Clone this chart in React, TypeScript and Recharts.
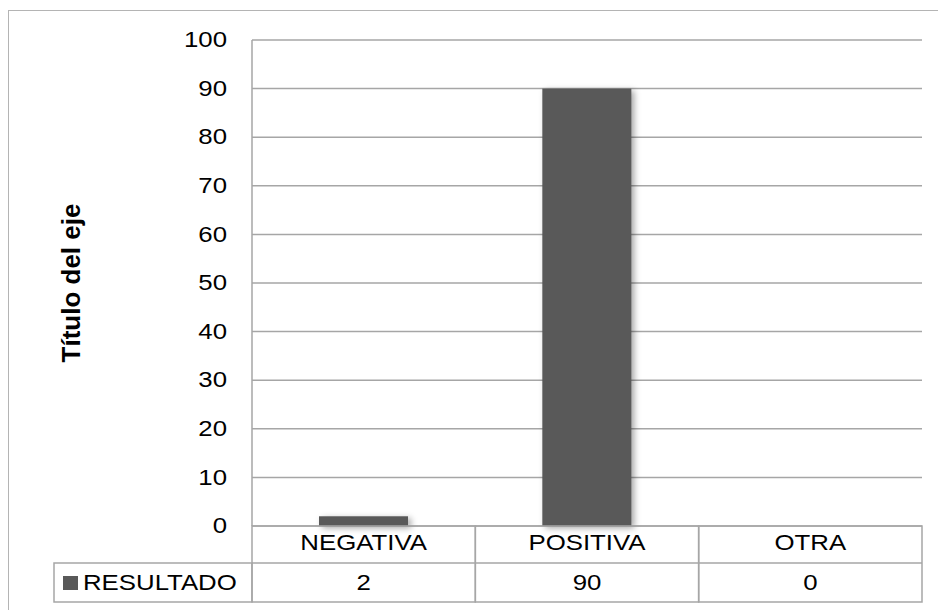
import React from 'react';
import { BarChart, Bar, XAxis, YAxis, CartesianGrid } from 'recharts';

// categories, series values and axis ticks
const categories = ['NEGATIVA', 'POSITIVA', 'OTRA'];
const resultado = [2, 90, 0];
const seriesName = 'RESULTADO';
const yTicks = [0, 10, 20, 30, 40, 50, 60, 70, 80, 90, 100];

const data = categories.map((category, i) => ({ category, resultado: resultado[i] }));

const WIDTH = 938;
const HEIGHT = 610;
const PLOT_LEFT = 252;
const PLOT_RIGHT = 922;
const PLOT_TOP = 40;
const TABLE_H = 84;
const PLOT_BOTTOM = HEIGHT - TABLE_H;
const ROW_SPLIT = 563;
const TABLE_BOTTOM = 602;
const LEGEND_LEFT = 54;

const FONT = '"Liberation Sans", Arial, sans-serif';
const GRID = '#A6A6A6';
const BAR = '#595959';
const STRETCH = 1.2;

// widened Excel-style text, scaled around its anchor point
const Wide = ({ x, y, anchor = 'middle', size = 21.5, children }: any) => (
  <text
    x={x}
    y={y}
    textAnchor={anchor}
    dominantBaseline="central"
    fontFamily={FONT}
    fontSize={size}
    fill="#000"
    transform={`translate(${x},${y}) scale(${STRETCH},1) translate(${-x},${-y})`}
  >
    {children}
  </text>
);

const YTick = ({ x, y, payload }: any) => (
  <Wide x={x} y={y} anchor="end">{payload.value}</Wide>
);

// data table under the plot: category row, value row, legend key cell
const TableTick = ({ x, payload, index }: any) => {
  const cw = (PLOT_RIGHT - PLOT_LEFT) / categories.length;
  const left = x - cw / 2;
  const value = data[index].resultado;
  return (
    <g>
      <rect
        x={left}
        y={PLOT_BOTTOM}
        width={cw}
        height={TABLE_BOTTOM - PLOT_BOTTOM}
        fill="none"
        stroke={GRID}
        strokeWidth={1.5}
      />
      <line x1={left} x2={left + cw} y1={ROW_SPLIT} y2={ROW_SPLIT} stroke={GRID} strokeWidth={1.5} />
      <Wide x={x} y={(PLOT_BOTTOM + ROW_SPLIT) / 2 - 2}>{payload.value}</Wide>
      <Wide x={x} y={(ROW_SPLIT + TABLE_BOTTOM) / 2}>{value}</Wide>
      {index === 0 && (
        <g>
          <rect
            x={LEGEND_LEFT}
            y={ROW_SPLIT}
            width={left - LEGEND_LEFT}
            height={TABLE_BOTTOM - ROW_SPLIT}
            fill="none"
            stroke={GRID}
            strokeWidth={1.5}
          />
          <rect x={LEGEND_LEFT + 9} y={576} width={15} height={14} fill={BAR} />
          <Wide x={LEGEND_LEFT + 29} y={(ROW_SPLIT + TABLE_BOTTOM) / 2} anchor="start">
            {seriesName}
          </Wide>
        </g>
      )}
    </g>
  );
};

const ShadowBar = (p: any) => (
  <rect
    x={p.x}
    y={p.y}
    width={p.width}
    height={p.height}
    fill={BAR}
    style={{ filter: 'drop-shadow(3px 2px 3px rgba(0,0,0,0.35))' }}
  />
);

const AxisTitle = () => (
  <text
    x={80}
    y={283}
    transform="rotate(-90, 80, 283)"
    textAnchor="middle"
    fontFamily={FONT}
    fontSize={26}
    fontWeight="bold"
    fill="#000"
  >
    Título del eje
  </text>
);

export default function App() {
  return (
    <div style={{ position: 'fixed', left: 0, top: 0, width: WIDTH, height: HEIGHT, background: '#fff', overflow: 'hidden' }}>
      <div
        style={{
          position: 'absolute',
          left: 8,
          top: 10,
          width: 960,
          height: 640,
          border: '1.5px solid #B4B4B4',
        }}
      />
      <div style={{ position: 'absolute', left: 0, top: 0 }}>
        <BarChart
          width={WIDTH}
          height={HEIGHT}
          data={data}
          margin={{ top: PLOT_TOP, right: WIDTH - PLOT_RIGHT, bottom: 0, left: 0 }}
          barCategoryGap="30%"
        >
          <CartesianGrid vertical={false} stroke={GRID} strokeWidth={1.5} />
          <XAxis
            dataKey="category"
            height={TABLE_H}
            axisLine={false}
            tickLine={false}
            interval={0}
            tick={<TableTick />}
          />
          <YAxis
            width={PLOT_LEFT}
            domain={[0, 100]}
            ticks={yTicks}
            interval={0}
            axisLine={{ stroke: GRID, strokeWidth: 1.5 }}
            tickLine={false}
            tickSize={0}
            tickMargin={25}
            tick={<YTick />}
            label={{ content: () => <AxisTitle /> }}
          />
          <Bar dataKey="resultado" name={seriesName} fill={BAR} shape={<ShadowBar />} isAnimationActive={false} />
        </BarChart>
      </div>
    </div>
  );
}
